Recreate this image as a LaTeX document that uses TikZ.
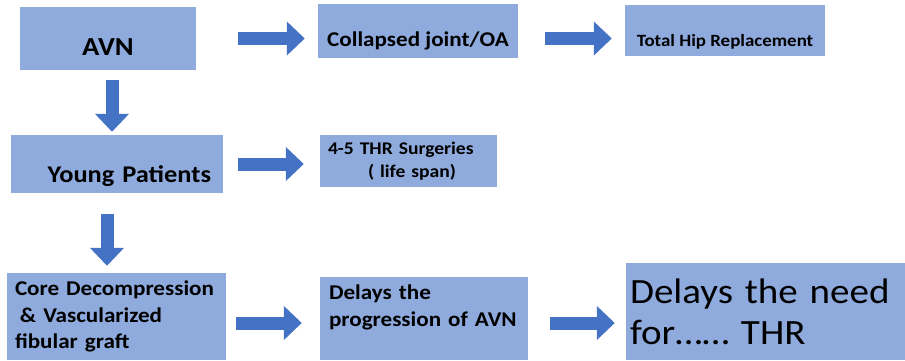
\documentclass[tikz,border=0pt]{standalone}
\usepackage{fontspec}
\setmainfont{Carlito}[FakeStretch=1.1]
\usetikzlibrary{arrows.meta}

\definecolor{boxblue}{HTML}{8FAADC}
\definecolor{arrowblue}{HTML}{4472C4}

\begin{document}
\begin{tikzpicture}[
        x=1pt, y=-1pt,
        box/.style={fill=boxblue, inner sep=0, anchor=center},
        blockarrow/.style={draw=arrowblue, line width=13pt,
            -{Triangle[length=18pt, width=33pt]}},
        %font=\sffamily,
    ]

    \useasboundingbox (0,0) rectangle (905,361);

    % Define top row.
    \node[box, minimum width=176pt, minimum height=63pt,
        font=\fontsize{26}{30}\selectfont\bfseries,
        text height=35pt, text depth=0pt] (avn) at (108,38.5) {AVN};
    \node[box, minimum width=200pt, minimum height=54pt,
        font=\fontsize{21}{25}\selectfont\bfseries,
        text height=32pt, text depth=0pt] (collapsed) at (418,31) {Collapsed joint/OA};
    \node[box, minimum width=200pt, minimum height=51pt,
        font=\fontsize{17.2}{20}\selectfont\bfseries,
        text height=33pt, text depth=0pt] (thr) at (725,30.5) {Total Hip Replacement};

    % Define middle row.
    \node[box, minimum width=212pt, minimum height=58pt, text width=188pt, align=right,
        font=\fontsize{24}{28}\selectfont\bfseries,
        text height=36pt, text depth=0pt] (young) at (117,164) {Young Patients};
    \node[box, minimum width=177pt, minimum height=52pt, text width=161pt, align=left,
        font=\fontsize{17.8}{23}\selectfont\bfseries] (surgeries) at (408.5,161)
        {4-5 THR Surgeries\\\hspace*{40pt}( life span)};

    % Define bottom row.
    \node[box, minimum width=219pt, minimum height=87pt, text width=203pt, align=left,
        font=\fontsize{21}{26.5}\selectfont\bfseries] (core) at (116.5,316.5)
        {Core Decompression\\\hspace*{5pt}\& Vascularized\\fibular graft};
    \node[box, minimum width=208pt, minimum height=83pt, text width=190pt, align=left,
        font=\fontsize{21}{27}\selectfont\bfseries,
        text depth=52pt] (progression) at (424,318.5)
        {Delays the\\progression of AVN};
    \node[box, minimum width=279pt, minimum height=97pt, text width=271pt, align=left,
        font=\fontsize{35.5}{41}\selectfont] (need) at (765.5,311.5)
        {Delays the need\\for\ldots\ldots{} THR};

    % Helper points for the arrows.
    \coordinate (col1) at ([xshift=4pt]avn.south);
    \coordinate (col2) at ([xshift=-10pt]young.south);
    \coordinate (row3) at ([yshift=-6.5pt]core.east);

    \draw[blockarrow, shorten <=42pt, shorten >=13pt] (avn.east) -- (avn.east -| collapsed.west);
    \draw[blockarrow, shorten <=27pt, shorten >=13pt] (avn.east -| collapsed.east) -- (avn.east -| thr.west);
    \draw[blockarrow, shorten <=15pt, shorten >=16pt] (young.east) -- (young.east -| surgeries.west);
    \draw[blockarrow, shorten <=10pt, shorten >=18pt] (row3) -- (row3 -| progression.west);
    \draw[blockarrow, shorten <=22pt, shorten >=11pt] (row3 -| progression.east) -- (row3 -| need.west);

    \draw[blockarrow, shorten <=10pt, shorten >=3pt] (col1) -- (col1 |- young.north);
    \draw[blockarrow, shorten <=21pt, shorten >=7pt] (col2) -- (col2 |- core.north);
\end{tikzpicture}
\end{document}
